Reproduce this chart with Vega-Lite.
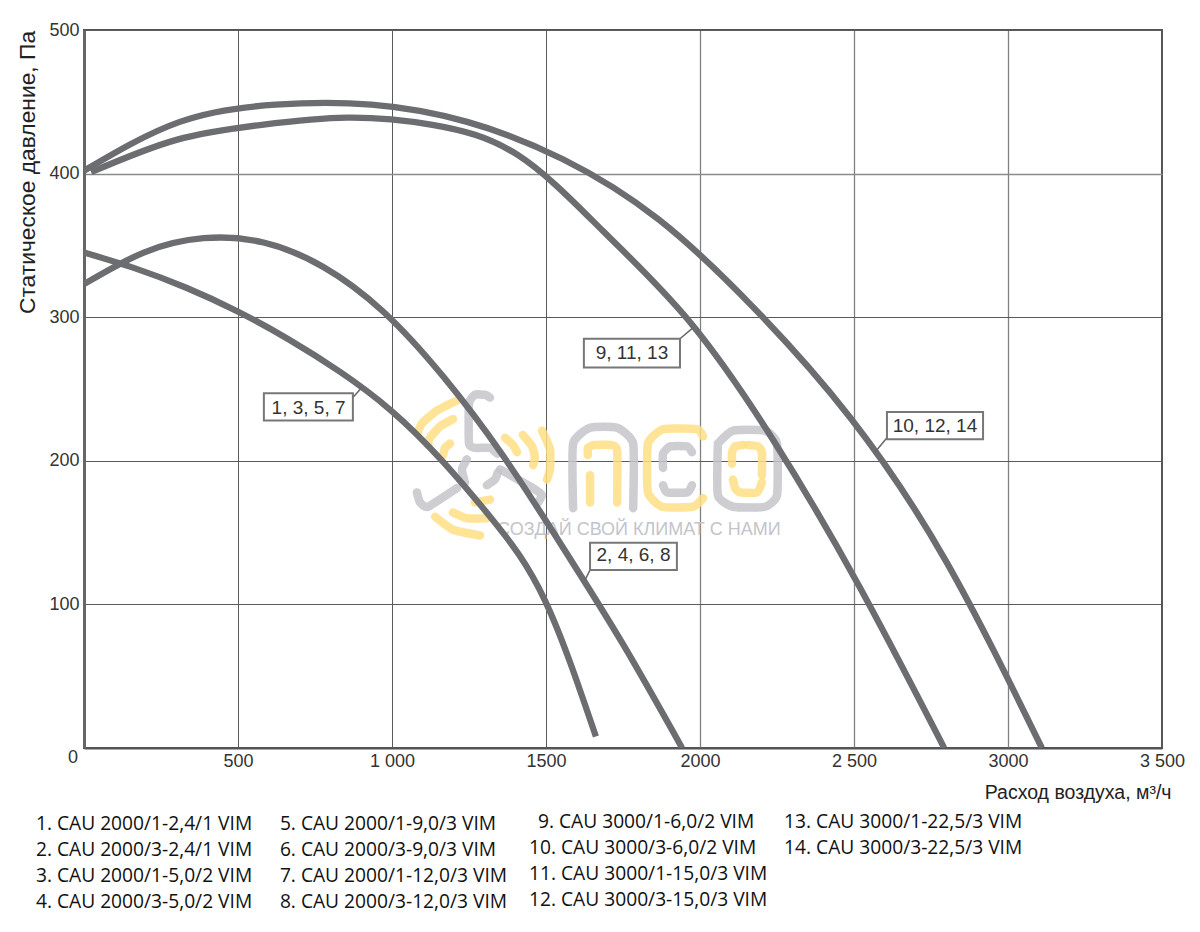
{"$schema":"https://vega.github.io/schema/vega-lite/v6.json","width":1078,"height":718,"autosize":"none","padding":{"left":84,"top":30,"right":38,"bottom":184},"background":"white","view":{"stroke":"#555","strokeWidth":2},"datasets":{"curves":[{"c":"A","x":0,"y":345},{"c":"A","x":166,"y":334},{"c":"A","x":332,"y":320.5},{"c":"A","x":499,"y":304},{"c":"A","x":665,"y":284.5},{"c":"A","x":831,"y":262},{"c":"A","x":997,"y":235},{"c":"A","x":1163,"y":200},{"c":"A","x":1330,"y":158},{"c":"A","x":1496,"y":103},{"c":"A","x":1662,"y":8},{"c":"B","x":0,"y":323},{"c":"B","x":194,"y":345},{"c":"B","x":388,"y":355},{"c":"B","x":583,"y":352},{"c":"B","x":777,"y":335},{"c":"B","x":971,"y":304},{"c":"B","x":1165,"y":259},{"c":"B","x":1359,"y":204},{"c":"B","x":1554,"y":140},{"c":"B","x":1748,"y":73},{"c":"B","x":1942,"y":0},{"c":"C","x":23,"y":401},{"c":"C","x":300,"y":423.5},{"c":"C","x":577,"y":434},{"c":"C","x":854,"y":439},{"c":"C","x":1131,"y":434},{"c":"C","x":1408,"y":413},{"c":"C","x":1685,"y":360},{"c":"C","x":1962,"y":298},{"c":"C","x":2239,"y":214},{"c":"C","x":2516,"y":113},{"c":"C","x":2793,"y":0},{"c":"D","x":0,"y":402},{"c":"D","x":311,"y":436},{"c":"D","x":622,"y":448},{"c":"D","x":933,"y":448},{"c":"D","x":1244,"y":436},{"c":"D","x":1555,"y":410},{"c":"D","x":1866,"y":368},{"c":"D","x":2177,"y":306},{"c":"D","x":2488,"y":230},{"c":"D","x":2799,"y":130},{"c":"D","x":3110,"y":0}],"logo":[{"g":"a1","k":"g","x":1588,"y":167},{"g":"a1","k":"g","x":1588,"y":212},{"g":"a1","k":"g","x":1643,"y":223},{"g":"a1","k":"g","x":1731,"y":223},{"g":"a1","k":"g","x":1783,"y":212},{"g":"a1","k":"g","x":1783,"y":167},{"g":"a2","k":"y","x":1636,"y":204},{"g":"a2","k":"y","x":1636,"y":209},{"g":"a2","k":"y","x":1656,"y":211},{"g":"a2","k":"y","x":1714,"y":211},{"g":"a2","k":"y","x":1731,"y":207},{"g":"a2","k":"y","x":1731,"y":171},{"g":"a3","k":"y","x":1643,"y":190},{"g":"a3","k":"y","x":1643,"y":171},{"g":"c1","k":"y","x":2010,"y":217},{"g":"c1","k":"y","x":1990,"y":222},{"g":"c1","k":"y","x":1880,"y":222},{"g":"c1","k":"y","x":1831,"y":212},{"g":"c1","k":"y","x":1831,"y":178},{"g":"c1","k":"y","x":1877,"y":168},{"g":"c1","k":"y","x":1977,"y":168},{"g":"c1","k":"y","x":2010,"y":174},{"g":"c2","k":"g","x":1974,"y":206},{"g":"c2","k":"g","x":1958,"y":210},{"g":"c2","k":"g","x":1903,"y":210},{"g":"c2","k":"g","x":1880,"y":205},{"g":"c2","k":"g","x":1880,"y":195},{"g":"c3","k":"g","x":1880,"y":183},{"g":"c3","k":"g","x":1893,"y":178},{"g":"c3","k":"g","x":1958,"y":178},{"g":"c3","k":"g","x":1974,"y":183},{"g":"o1","k":"g","x":2058,"y":212},{"g":"o1","k":"g","x":2107,"y":221},{"g":"o1","k":"g","x":2211,"y":221},{"g":"o1","k":"g","x":2250,"y":212},{"g":"o1","k":"g","x":2250,"y":176},{"g":"o1","k":"g","x":2211,"y":168},{"g":"o1","k":"g","x":2107,"y":168},{"g":"o1","k":"g","x":2058,"y":176},{"g":"o1","k":"g","x":2058,"y":212},{"g":"o2","k":"y","x":2156,"y":211},{"g":"o2","k":"y","x":2188,"y":210},{"g":"o2","k":"y","x":2201,"y":206},{"g":"o2","k":"y","x":2201,"y":190},{"g":"o3","k":"y","x":2140,"y":211},{"g":"o3","k":"y","x":2114,"y":210},{"g":"o3","k":"y","x":2104,"y":206},{"g":"o3","k":"y","x":2104,"y":198},{"g":"o4","k":"y","x":2107,"y":187},{"g":"o4","k":"y","x":2114,"y":181},{"g":"o4","k":"y","x":2130,"y":178},{"g":"o4","k":"y","x":2185,"y":178},{"g":"o4","k":"y","x":2201,"y":185},{"g":"f1","k":"g","x":1318,"y":244},{"g":"f1","k":"g","x":1302,"y":246},{"g":"f1","k":"g","x":1269,"y":246},{"g":"f1","k":"g","x":1250,"y":240},{"g":"f1","k":"g","x":1250,"y":212},{"g":"f1","k":"g","x":1269,"y":209},{"g":"f1","k":"g","x":1318,"y":209},{"g":"f1","k":"g","x":1341,"y":205},{"g":"f2","k":"g","x":1351,"y":194},{"g":"f2","k":"g","x":1458,"y":181},{"g":"f2","k":"g","x":1487,"y":176},{"g":"f2","k":"g","x":1474,"y":171},{"g":"f3","k":"g","x":1081,"y":178},{"g":"f3","k":"g","x":1091,"y":171},{"g":"f3","k":"g","x":1117,"y":168},{"g":"f3","k":"g","x":1211,"y":181},{"g":"h1","k":"g","x":1243,"y":201},{"g":"h1","k":"g","x":1227,"y":194},{"g":"h1","k":"g","x":1237,"y":185},{"g":"h2","k":"g","x":1308,"y":183},{"g":"h2","k":"g","x":1334,"y":187},{"g":"h2","k":"g","x":1344,"y":192},{"g":"y1","k":"y","x":1211,"y":242},{"g":"y1","k":"y","x":1146,"y":235},{"g":"y1","k":"y","x":1097,"y":226},{"g":"y1","k":"y","x":1084,"y":220},{"g":"y2","k":"y","x":1198,"y":229},{"g":"y2","k":"y","x":1156,"y":224},{"g":"y2","k":"y","x":1123,"y":216},{"g":"y2","k":"y","x":1117,"y":211},{"g":"y3","k":"y","x":1188,"y":212},{"g":"y3","k":"y","x":1172,"y":209},{"g":"y3","k":"y","x":1166,"y":204},{"g":"y4","k":"y","x":1367,"y":216},{"g":"y4","k":"y","x":1393,"y":211},{"g":"y4","k":"y","x":1406,"y":206},{"g":"y5","k":"y","x":1425,"y":218},{"g":"y5","k":"y","x":1455,"y":210},{"g":"y5","k":"y","x":1464,"y":202},{"g":"y5","k":"y","x":1458,"y":197},{"g":"y6","k":"y","x":1487,"y":221},{"g":"y6","k":"y","x":1513,"y":208},{"g":"y6","k":"y","x":1513,"y":194},{"g":"y6","k":"y","x":1503,"y":187},{"g":"y7","k":"y","x":1140,"y":161},{"g":"y7","k":"y","x":1198,"y":152},{"g":"y7","k":"y","x":1286,"y":148},{"g":"y8","k":"y","x":1198,"y":164},{"g":"y8","k":"y","x":1243,"y":160},{"g":"y8","k":"y","x":1308,"y":160},{"g":"y9","k":"y","x":1269,"y":171},{"g":"y9","k":"y","x":1318,"y":173}],"boxes":[{"x":584,"x2":873,"y":247,"y2":228,"cx":729,"cy":237,"t":"1, 3, 5, 7","lx":873,"ly":244,"tx":902,"ty":251},{"x":1623,"x2":1935,"y":285,"y2":265,"cx":1779,"cy":275,"t":"9, 11, 13","lx":1935,"ly":285,"tx":1974,"ty":292},{"x":2607,"x2":2919,"y":234,"y2":215,"cx":2763,"cy":224,"t":"10, 12, 14","lx":2607,"ly":216,"tx":2568,"ty":206},{"x":1643,"x2":1925,"y":143,"y2":124,"cx":1784,"cy":134.5,"t":"2, 4, 6, 8","lx":1643,"ly":124,"tx":1627,"ty":117}],"models":[{"x":-156,"y":-52.9,"t":"1. CAU 2000/1-2,4/1 VIM"},{"x":-156,"y":-71,"t":"2. CAU 2000/3-2,4/1 VIM"},{"x":-156,"y":-89.1,"t":"3. CAU 2000/1-5,0/2 VIM"},{"x":-156,"y":-107.2,"t":"4. CAU 2000/3-5,0/2 VIM"},{"x":636,"y":-52.9,"t":"5. CAU 2000/1-9,0/3 VIM"},{"x":636,"y":-71,"t":"6. CAU 2000/3-9,0/3 VIM"},{"x":636,"y":-89.1,"t":"7. CAU 2000/1-12,0/3 VIM"},{"x":636,"y":-107.2,"t":"8. CAU 2000/3-12,0/3 VIM"},{"x":1474,"y":-51.5,"t":"9. CAU 3000/1-6,0/2 VIM"},{"x":1445,"y":-69.6,"t":"10. CAU 3000/3-6,0/2 VIM"},{"x":1445,"y":-87.7,"t":"11. CAU 3000/1-15,0/3 VIM"},{"x":1445,"y":-105.9,"t":"12. CAU 3000/3-15,0/3 VIM"},{"x":2273,"y":-51.5,"t":"13. CAU 3000/1-22,5/3 VIM"},{"x":2273,"y":-69.6,"t":"14. CAU 3000/3-22,5/3 VIM"}]},"encoding":{"x":{"field":"x","type":"quantitative","title":"Расход воздуха, м³/ч","scale":{"domain":[0,3500],"nice":false,"zero":false},"axis":{"values":[500,1000,1500,2000,2500,3000,3500],"labelExpr":"datum.value==1000?'1 000':datum.value==2500?'2 500':datum.value==3500?'3 500':datum.label","format":"d","grid":true,"gridColor":{"condition":{"test":"datum.value==2000||datum.value==2500||datum.value==3000","value":"#808080"},"value":"#5a5a5a"},"gridWidth":{"condition":{"test":"datum.value==2000||datum.value==2500||datum.value==3000","value":1.3},"value":1},"domainColor":"#555","domainWidth":2,"ticks":false,"labelPadding":4,"labelFlush":false,"labelOverlap":false,"labelFont":"Liberation Sans","labelFontSize":18,"labelColor":"#333","titleFont":"Liberation Sans","titleFontSize":19.5,"titleFontWeight":"normal","titleColor":"#222","titleAlign":"right","titleAnchor":"end","titleX":1087,"titleY":44,"titleBaseline":"middle"}},"y":{"field":"y","type":"quantitative","title":"Статическое давление, Па","scale":{"domain":[0,500],"nice":false,"zero":false},"axis":{"values":[100,200,300,400,500],"format":"d","grid":true,"gridColor":{"condition":{"test":"datum.value==400","value":"#8a8a8a"},"value":"#5a5a5a"},"gridWidth":{"condition":{"test":"datum.value==400","value":1.3},"value":1},"domainColor":"#666","domainWidth":3,"ticks":false,"labelPadding":5,"labelFlush":false,"labelFont":"Liberation Sans","labelFontSize":18,"labelColor":"#333","titleFont":"Liberation Sans","titleFontSize":22.8,"titleFontWeight":"normal","titleColor":"#222","titleAngle":-90,"titleX":-57,"titleY":142,"titleBaseline":"middle","titleAlign":"center"}}},"layer":[{"data":{"name":"logo"},"mark":{"type":"line","interpolate":"cardinal","tension":0.5,"strokeCap":"round","strokeWidth":8.5,"opacity":0.85},"encoding":{"detail":{"field":"g"},"order":{"value":null},"color":{"field":"k","type":"nominal","legend":null,"scale":{"domain":["g","y"],"range":["#C4C4CA","#FFDF85"]}}}},{"data":{"values":[{"x":1341,"y":148,"t":"СОЗДАЙ СВОЙ КЛИМАТ С НАМИ"}]},"mark":{"type":"text","align":"left","baseline":"alphabetic","font":"Liberation Sans","fontSize":18,"color":"#C4C4CA"},"encoding":{"text":{"field":"t"}}},{"data":{"name":"curves"},"mark":{"type":"line","interpolate":"natural","strokeWidth":6.3,"color":"#6C6D70","clip":true},"encoding":{"detail":{"field":"c"}}},{"data":{"name":"boxes"},"mark":{"type":"rule","color":"#666","strokeWidth":1.5},"encoding":{"x":{"field":"lx","type":"quantitative"},"y":{"field":"ly","type":"quantitative"},"x2":{"field":"tx"},"y2":{"field":"ty"}}},{"data":{"name":"boxes"},"mark":{"type":"rect","fill":"white","stroke":"#777","strokeWidth":2},"encoding":{"x2":{"field":"x2"},"y2":{"field":"y2"}}},{"data":{"name":"boxes"},"mark":{"type":"text","font":"Liberation Sans","fontSize":19,"color":"#333","baseline":"middle"},"encoding":{"x":{"field":"cx","type":"quantitative"},"y":{"field":"cy","type":"quantitative"},"text":{"field":"t"}}},{"data":{"name":"models"},"mark":{"type":"text","align":"left","baseline":"middle","font":"Open Sans","fontSize":19.2,"color":"#111"},"encoding":{"text":{"field":"t"}}},{"data":{"values":[{"x":-36,"y":-7,"t":"0"}]},"mark":{"type":"text","font":"Liberation Sans","fontSize":18,"color":"#333","baseline":"middle"},"encoding":{"text":{"field":"t"}}}]}
